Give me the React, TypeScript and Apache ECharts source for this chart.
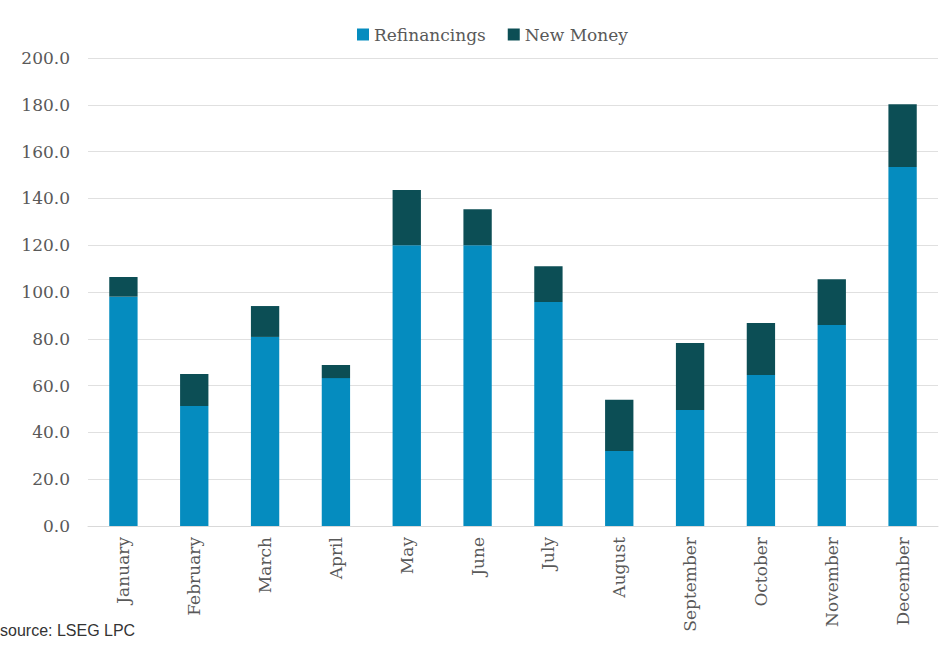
import React, { useEffect, useRef } from "react";
import * as echarts from "echarts";

const months = ["January", "February", "March", "April", "May", "June", "July", "August", "September", "October", "November", "December"];
const refinancings = [98, 51.3, 80.8, 63.2, 120, 120, 95.7, 32, 49.6, 64.5, 85.9, 153.4];
const totals = [106.4, 65, 94, 68.8, 143.6, 135.4, 111, 54, 78.2, 86.7, 105.5, 180.2];
const newMoney = totals.map((t, i) => +(t - refinancings[i]).toFixed(1));
const yTicks = { min: 0, max: 200, interval: 20 };
const sourceNote = "source: LSEG LPC";

export default function App() {
  const ref = useRef<HTMLDivElement>(null);
  useEffect(() => {
    const chart = echarts.init(ref.current!, null, { renderer: "svg" });
    const font = "'DejaVu Serif', Georgia, serif";
    chart.setOption({
      animation: false,
      backgroundColor: "#ffffff",
      legend: {
        top: 21,
        left: 352,
        itemWidth: 12,
        itemHeight: 12,
        itemGap: 22,
        icon: "rect",
        textStyle: { fontFamily: font, fontSize: 17, color: "#595959" },
        data: ["Refinancings", "New Money"],
      },
      grid: { left: 88, right: 4, top: 58, bottom: 133 },
      xAxis: {
        type: "category",
        data: months,
        axisTick: { show: false },
        axisLine: { lineStyle: { color: "#d9d9d9" } },
        axisLabel: { rotate: 90, margin: 11, fontFamily: font, fontSize: 17, color: "#595959", interval: 0 },
      },
      yAxis: {
        type: "value",
        min: yTicks.min,
        max: yTicks.max,
        interval: yTicks.interval,
        axisLine: { show: false },
        axisTick: { show: false },
        splitLine: { lineStyle: { color: "#e0e0e0" } },
        axisLabel: {
          margin: 18,
          fontFamily: font,
          fontSize: 17,
          color: "#595959",
          formatter: (v: number) => v.toFixed(1),
        },
      },
      series: [
        { name: "Refinancings", type: "bar", stack: "s", data: refinancings, barWidth: "40%", itemStyle: { color: "#058cbf" } },
        { name: "New Money", type: "bar", stack: "s", data: newMoney, barWidth: "40%", itemStyle: { color: "#0c4e55" } },
      ],
      graphic: [
        {
          type: "text",
          left: 0,
          top: 622,
          style: { text: sourceNote, fontFamily: "'Liberation Sans Narrow', 'Liberation Sans', sans-serif", fontSize: 16, fill: "#333333" },
        },
      ],
    });
    return () => chart.dispose();
  }, []);
  return <div ref={ref} style={{ position: "fixed", left: 0, top: 0, width: 942, height: 659 }} />;
}
